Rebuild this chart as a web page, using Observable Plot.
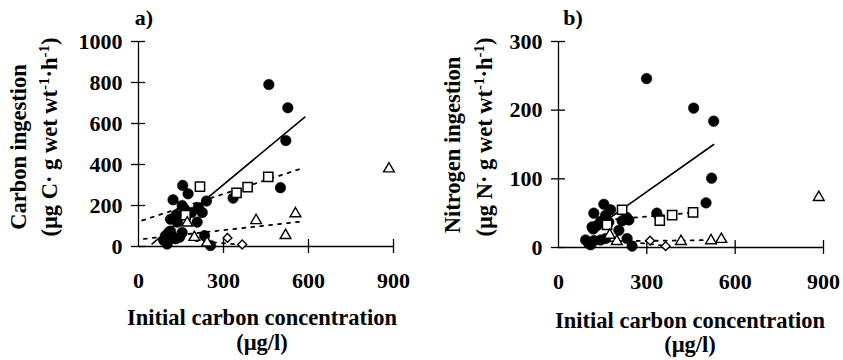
<!DOCTYPE html>
<html><head><meta charset="utf-8">
<script src="https://cdn.jsdelivr.net/npm/d3@7"></script>
<script src="https://cdn.jsdelivr.net/npm/@observablehq/plot@0.6"></script>
<style>
body{margin:0;background:#fff;}
#wrap{display:flex;width:843px;height:360px;overflow:hidden;}
#wrap svg{display:block;flex:none;}
</style></head><body><div id="wrap"></div>
<script>
// ---- tick labels ----
const xTicks = [0, 300, 600, 900];
const carbonTicks = [0, 200, 400, 600, 800, 1000];
const nitrogenTicks = [0, 100, 200, 300];

// ---- panel a) Carbon ingestion ----  [initial carbon concentration, ingestion]
const carbonCircles = [[460,790],[527,677],[520,517],[501,287],[334,236],
  [156,298],[175,257],[122,228],[154,200],[211,190],[240,222],
  [133,155],[166,176],[187,166],[225,166],[207,119],[113,133],[137,119],
  [154,68],[113,75],[95,52],[124,42],[101,12],[131,38],[107,70],[233,53],[254,5],[119,48],[89,30],[145,45]];
const carbonSquares = [[217,292],[346,262],[385,290],[458,340],[166,153]];
const carbonTriangles = [[884,379],[554,160],[415,127],[519,54],[172,115],[197,45],[242,18]];
const carbonDiamonds = [[314,42],[366,10]];
// fitted lines: [x1,x2],[y1,y2]
const carbonFitCircles = [[48,587],[13,631]];
const carbonFitSquares = [[13,572],[127,379]];
const carbonFitTriangles = [[19,578],[37,122]];
const carbonFitDiamonds = [[200,370],[28,8]];

// ---- panel b) Nitrogen ingestion ----
const nitrogenCircles = [[299,246],[459,203],[527,184],[520,101],[501,65],[334,50],
  [154,63],[177,55],[120,50],[160,47],[231,44],[216,39],[143,38],[239,40],[131,32],[205,25],[118,27],[171,37],[233,13],[250,2],
  [92,11],[103,6],[120,10],[143,11],[160,13],[109,4],[114,30]];
const nitrogenSquares = [[216,55],[344,39],[386,47],[457,51],[165,33]];
const nitrogenTriangles = [[884,73],[553,12],[518,10],[416,9],[198,9],[174,18]];
const nitrogenDiamonds = [[311,10],[364,2]];
const nitrogenFitCircles = [[131,527],[30,150]];
const nitrogenFitSquares = [[165,460],[40,51]];
const nitrogenFitTriangles = [[174,553],[9,11]];
const nitrogenFitDiamonds = [[250,370],[8,2]];

const FONT = "'Liberation Serif','Times New Roman',serif";

function fitRows(fit, name) {
  return fit[0].map((x, i) => ({x, y: fit[1][i], s: name}));
}

function panel(o) {
  const solid = fitRows(o.fits[0], "c");
  const dotted = [...fitRows(o.fits[1], "s"), ...fitRows(o.fits[2], "t"), ...fitRows(o.fits[3], "d")];
  const X = d => d[0], Y = d => d[1];
  const chart = Plot.plot({
    width: o.width, height: 360,
    marginLeft: 138, marginRight: o.marginRight, marginTop: 41, marginBottom: o.marginBottom,
    x: {domain: [0, 900], axis: null},
    y: {domain: [0, o.ymax], axis: null},
    style: {fontFamily: FONT, fontSize: "22px", fontWeight: "bold", background: "white", color: "black", overflow: "visible"},
    marks: [
      Plot.ruleY([0], {stroke: "black", strokeWidth: 1.3}),
      Plot.ruleX([0], {stroke: "black", strokeWidth: 1.3}),
      Plot.ruleX(xTicks.slice(1), {x: d => d, y1: 0, y2: 0, insetTop: -7, insetBottom: -7, stroke: "black", strokeWidth: 1.3}),
      Plot.ruleY(o.yTicks, {y: d => d, x1: 0, x2: 0, insetLeft: -7, insetRight: -7, stroke: "black", strokeWidth: 1.3}),
      Plot.text(xTicks, {x: d => d, y: 0, text: d => String(d), dy: 34, fill: "black"}),
      Plot.text(o.yTicks, {x: 0, y: d => d, text: d => String(d), dx: -16, textAnchor: "end", fill: "black"}),
      Plot.line(solid, {x: "x", y: "y", z: "s", stroke: "black", strokeWidth: 1.6}),
      Plot.line(dotted, {x: "x", y: "y", z: "s", stroke: "black", strokeWidth: 1.8, strokeDasharray: "3,6"}),
      Plot.dot(o.circles, {x: X, y: Y, r: 5.3, fill: "black", stroke: "black", strokeWidth: 0.5}),
      Plot.dot(o.squares, {x: X, y: Y, symbol: "square", r: 5.2, fill: "white", stroke: "black", strokeWidth: 1.5}),
      Plot.dot(o.triangles, {x: X, y: Y, symbol: "triangle", r: 4, fill: "white", stroke: "black", strokeWidth: 1.4}),
      Plot.dot(o.diamonds, {x: X, y: Y, symbol: "diamond2", r: 4, fill: "white", stroke: "black", strokeWidth: 1.4})
    ]
  });
  const svg = d3.select(chart);
  const g = svg.append("g").attr("font-family", FONT).attr("font-weight", "bold").attr("fill", "black");
  g.append("text").attr("x", o.tagX).attr("y", 25).attr("font-size", 22).text(o.tag);
  g.append("text").attr("transform", `translate(${o.yl1X},${o.yl1Y}) rotate(-90)`)
    .attr("text-anchor", "middle").attr("font-size", 22.5).text(o.ylab1);
  const t2 = g.append("text").attr("transform", `translate(${o.yl2X},${o.yl2Y}) rotate(-90)`)
    .attr("text-anchor", "middle").attr("font-size", 22.5);
  t2.append("tspan").text(o.ylab2);
  t2.append("tspan").attr("dy", -8).attr("font-size", 15).text("-1");
  t2.append("tspan").attr("dy", 8).text("·h");
  t2.append("tspan").attr("dy", -8).attr("font-size", 15).text("-1");
  t2.append("tspan").attr("dy", 8).text(")");
  g.append("text").attr("x", o.xlX).attr("y", o.xl1Y).attr("text-anchor", "middle").attr("font-size", 22.5).text("Initial carbon concentration");
  g.append("text").attr("x", o.xlX).attr("y", o.xl2Y).attr("text-anchor", "middle").attr("font-size", 22.5).text("(µg/l)");
  return chart;
}

const wrap = document.getElementById("wrap");
wrap.append(panel({
  width: 420, marginRight: 27, marginBottom: 114, ymax: 1000, yTicks: carbonTicks,
  circles: carbonCircles, squares: carbonSquares, triangles: carbonTriangles, diamonds: carbonDiamonds,
  fits: [carbonFitCircles, carbonFitSquares, carbonFitTriangles, carbonFitDiamonds],
  tag: "a)", tagX: 144,
  ylab1: "Carbon ingestion", yl1X: 26, yl1Y: 147,
  ylab2: "(µg C· g wet wt", yl2X: 57, yl2Y: 137,
  xlX: 262, xl1Y: 325, xl2Y: 350
}));
wrap.append(panel({
  width: 423, marginRight: 20, marginBottom: 113, ymax: 300, yTicks: nitrogenTicks,
  circles: nitrogenCircles, squares: nitrogenSquares, triangles: nitrogenTriangles, diamonds: nitrogenDiamonds,
  fits: [nitrogenFitCircles, nitrogenFitSquares, nitrogenFitTriangles, nitrogenFitDiamonds],
  tag: "b)", tagX: 153,
  ylab1: "Nitrogen ingestion", yl1X: 40, yl1Y: 145,
  ylab2: "(µg N· g wet wt", yl2X: 72, yl2Y: 137,
  xlX: 270, xl1Y: 328, xl2Y: 352
}));
</script></body></html>
